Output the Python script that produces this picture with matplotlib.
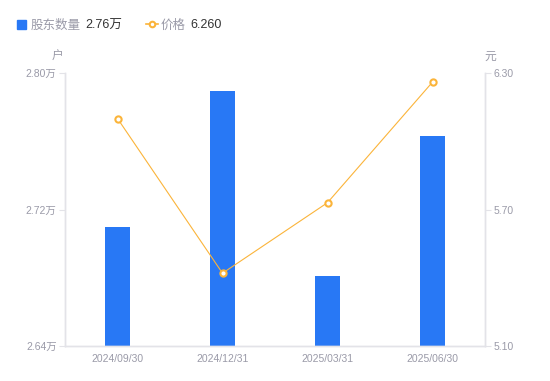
import matplotlib
matplotlib.use("Agg")
from matplotlib import pyplot as plt
from matplotlib.lines import Line2D
from matplotlib.patches import Rectangle
import numpy as np

plt.rcParams['font.family'] = ['Liberation Sans', 'Noto Sans CJK SC', 'DejaVu Sans']

# data
dates = ["2024/09/30", "2024/12/31", "2025/03/31", "2025/06/30"]
holders = [2.7095, 2.7895, 2.6810, 2.7630]   # 万户
price = [6.10, 5.42, 5.73, 6.26]              # 元
left_ticks = [2.64, 2.72, 2.80]
right_ticks = [5.10, 5.70, 6.30]

blue = "#2878F5"
orange = "#FBB43A"
gray = "#9A9AA8"
axis_gray = "#E3E3E8"

fig = plt.figure(figsize=(5.5, 3.81), dpi=100)
ax = fig.add_axes([65 / 550, 35 / 381, 420 / 550, 273 / 381])
ax2 = ax.twinx()

x = np.arange(len(dates))
ax.bar(x, np.array(holders) - 2.64, bottom=2.64, width=0.24, color=blue, zorder=2)
ax.set_xlim(-0.5, 3.5)
ax.set_ylim(2.64, 2.80)
ax.set_yticks(left_ticks)
ax.set_yticklabels(["%.2f万" % v for v in left_ticks])
ax.set_xticks(x)
ax.set_xticklabels(dates)

ax2.plot(x, price, color=orange, lw=0.8, marker="o", ms=4.5, mfc="white",
         mec=orange, mew=1.5, zorder=3)
ax2.set_ylim(5.10, 6.30)
ax2.set_yticks(right_ticks)
ax2.set_yticklabels(["%.2f" % v for v in right_ticks])

for a in (ax, ax2):
    a.spines["top"].set_visible(False)
    for s in ("left", "right", "bottom"):
        a.spines[s].set_color(axis_gray)
        a.spines[s].set_linewidth(1)
    a.tick_params(axis="y", length=4, width=0.8, color=axis_gray,
                  labelcolor=gray, labelsize=7.5, pad=2)
    a.tick_params(axis="x", length=0, labelcolor=gray, labelsize=7.5, pad=6)

fig.text(58 / 550, 1 - 57 / 381, "户", color=gray, fontsize=8.5, ha="center", va="center")
fig.text(490 / 550, 1 - 57 / 381, "元", color=gray, fontsize=8.5, ha="center", va="center")

# legend drawn by hand
ly = 1 - 24 / 381
ty = 1 - 25.5 / 381
fig.patches.append(Rectangle((17 / 550, ly - 4.5 / 381), 9 / 550, 9 / 381,
                             transform=fig.transFigure, color=blue))
fig.text(31 / 550, ty, "股东数量", color=gray, fontsize=9, va="center")
fig.text(85 / 550, ty, "2.76万", color="#333333", fontsize=9, va="center")
fig.lines.append(Line2D([146 / 550, 152 / 550, 158 / 550], [ly, ly, ly],
                        transform=fig.transFigure, color=orange, lw=1.2,
                        marker="o", ms=4, mfc="white", mec=orange, mew=1.5,
                        markevery=[1]))
fig.text(161 / 550, ty, "价格", color=gray, fontsize=9, va="center")
fig.text(190 / 550, ty, "6.260", color="#333333", fontsize=9, va="center")

fig.savefig("out.png", dpi=100)
